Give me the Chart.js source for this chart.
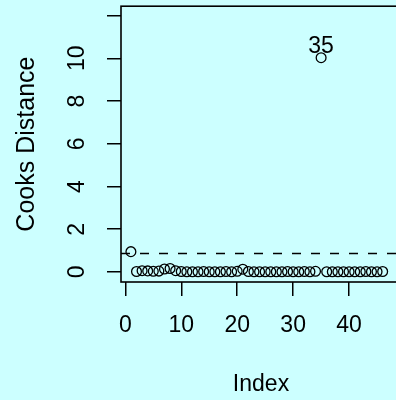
<!DOCTYPE html>
<html>
<head>
<meta charset="utf-8">
<script src="https://cdn.jsdelivr.net/npm/chart.js@4/dist/chart.umd.min.js"></script>
<style>
  html, body { margin: 0; padding: 0; background: #ccffff; overflow: hidden; }
  #wrap { width: 396px; height: 400px; overflow: hidden; }
  canvas { display: block; }
</style>
</head>
<body>
<div id="wrap"><canvas id="cooks" width="410" height="400"></canvas></div>
<script>
const obsIndex = [1, 2, 3, 4, 5, 6, 7, 8, 9, 10, 11, 12, 13, 14, 15, 16, 17, 18, 19, 20,
  21, 22, 23, 24, 25, 26, 27, 28, 29, 30, 31, 32, 33, 34, 35, 36, 37, 38, 39, 40,
  41, 42, 43, 44, 45, 46];
const cooksD = [0.95, 0.02, 0.06, 0.05, 0.03, 0.04, 0.14, 0.16, 0.06, 0.02,
  0.01, 0.01, 0.01, 0.02, 0.01, 0.01, 0.01, 0.02, 0.01, 0.03,
  0.13, 0.02, 0.01, 0.01, 0.01, 0.01, 0.01, 0.01, 0.02, 0.01,
  0.01, 0.02, 0.01, 0.03, 10.03, 0.01, 0.01, 0.01, 0.01, 0.01,
  0.01, 0.01, 0.02, 0.01, 0.01, 0.02];
const cutoff = 0.86;
const labelled = [35];
const xTicks = [0, 10, 20, 30, 40];
const yTicks = [0, 2, 4, 6, 8, 10, 12];
const yTickLabels = ["0", "2", "4", "6", "8", "10", ""];

const FONT = "'Liberation Sans', Arial, Helvetica, sans-serif";
const FONT_SIZE = 23;

// background, frame, cutoff line, tick labels and point labels
const rPlot = {
  id: "rPlot",
  beforeDraw(chart) {
    const { ctx, width, height } = chart;
    ctx.save();
    ctx.fillStyle = "#ccffff";
    ctx.fillRect(0, 0, width, height);
    ctx.restore();
  },
  afterDatasetsDraw(chart) {
    const { ctx, chartArea: a, scales: { x, y } } = chart;
    ctx.save();
    // cutoff line
    ctx.strokeStyle = "#000";
    ctx.lineWidth = 1.5;
    ctx.setLineDash([9, 10]);
    const yc = y.getPixelForValue(cutoff);
    ctx.beginPath();
    ctx.moveTo(a.left, yc);
    ctx.lineTo(a.right, yc);
    ctx.stroke();
    ctx.setLineDash([]);
    // frame
    ctx.lineWidth = 1.6;
    ctx.strokeRect(a.left, a.top, a.right - a.left, a.bottom - a.top);

    ctx.fillStyle = "#000";
    ctx.font = FONT_SIZE + "px " + FONT;
    ctx.textAlign = "center";
    ctx.textBaseline = "middle";
    xTicks.forEach(v => ctx.fillText(String(v), x.getPixelForValue(v), a.bottom + 44));
    yTicks.forEach((v, i) => {
      ctx.save();
      ctx.translate(a.left - 43.5, y.getPixelForValue(v));
      ctx.rotate(-Math.PI / 2);
      ctx.fillText(yTickLabels[i], 0, 0);
      ctx.restore();
    });
    labelled.forEach(idx => {
      const k = obsIndex.indexOf(idx);
      ctx.fillText(String(idx), x.getPixelForValue(obsIndex[k]), y.getPixelForValue(cooksD[k]) - 11.5);
    });
    ctx.restore();
  }
};

const tickGrid = {
  display: true,
  drawOnChartArea: false,
  drawTicks: true,
  tickLength: 14,
  color: "#000",
  lineWidth: 1.5
};

new Chart(document.getElementById("cooks"), {
  type: "scatter",
  data: {
    datasets: [{
      data: obsIndex.map((v, i) => ({ x: v, y: cooksD[i] })),
      pointStyle: "circle",
      pointRadius: 4.9,
      pointHoverRadius: 4.9,
      borderColor: "#000",
      borderWidth: 1.3,
      backgroundColor: "rgba(0,0,0,0)"
    }]
  },
  plugins: [rPlot],
  options: {
    responsive: false,
    animation: false,
    layout: { padding: { top: 5, right: 9, left: 0, bottom: 0 } },
    plugins: { legend: { display: false }, tooltip: { enabled: false } },
    scales: {
      x: {
        type: "linear",
        min: -0.77,
        max: 49.28,
        grid: tickGrid,
        border: { display: false },
        ticks: { display: false },
        afterBuildTicks: s => { s.ticks = xTicks.map(v => ({ value: v })); },
        afterFit: s => { s.height = 118; },
        title: {
          display: true,
          text: "Index",
          color: "#000",
          font: { family: FONT, size: FONT_SIZE },
          padding: { top: 0, bottom: 1.2 }
        }
      },
      y: {
        type: "linear",
        min: -0.47,
        max: 12.44,
        grid: tickGrid,
        border: { display: false },
        ticks: { display: false },
        afterBuildTicks: s => { s.ticks = yTicks.map(v => ({ value: v })); },
        afterFit: s => { s.width = 121; },
        title: {
          display: true,
          text: "Cooks Distance",
          color: "#000",
          font: { family: FONT, size: 25 },
          padding: { top: 12, bottom: 0 }
        }
      }
    }
  }
});
</script>
</body>
</html>
